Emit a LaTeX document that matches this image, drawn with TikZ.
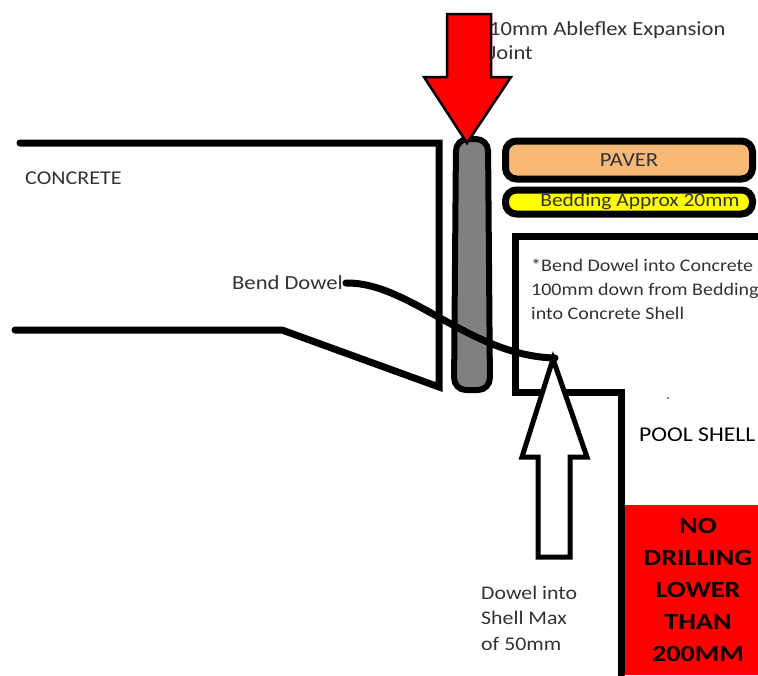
\documentclass[tikz,border=0pt]{standalone}
\usepackage{fontspec}
\setmainfont{Carlito}
\newfontfamily\wfont[FakeStretch=1.13]{Carlito}
\newfontfamily\bfont[FakeStretch=1.22]{Carlito}
\definecolor{paverc}{RGB}{249,185,118}
\definecolor{beddc}{RGB}{255,255,0}
\definecolor{jointc}{RGB}{128,128,128}
\definecolor{txtc}{RGB}{50,50,55}
\begin{document}
\begin{tikzpicture}[x=1pt,y=-1pt,
  thickline/.style={line width=7pt,line cap=round,line join=miter},
  lbl/.style={inner sep=0pt,anchor=west,text=txtc,align=left},
  layer/.style={draw=black,line width=7pt,rounded corners=11pt},
  redtxt/.style={inner sep=0pt,font=\fontsize{23}{32}\selectfont\bfont\bfseries,align=center}]
\useasboundingbox[fill=white] (0,0) rectangle (758,675);
% concrete slab
\draw[thickline] (20,143) -- (439,143) -- (439,387) -- (282,330) -- (15,330);
% pool shell
\draw[thickline,line cap=butt] (760,236) -- (515,236) -- (515,392) -- (621,392) -- (621,677);
% expansion joint
\draw[draw=black,line width=6pt,fill=jointc,rounded corners=12pt]
  (456,139) -- (488,139) -- (490,390) -- (454,390) -- cycle;
% paver and bedding
\node[layer,fill=paverc,minimum width=247pt,minimum height=38pt,inner sep=0pt,
  text=txtc,font=\fontsize{20}{22}\selectfont\wfont] (paver) at (629,160) {PAVER};
\node[layer,fill=beddc,minimum width=247pt,minimum height=24pt,inner sep=0pt,
  text=txtc,font=\fontsize{19}{20}\selectfont\wfont] (bedding) at (629,202) {\hspace{22pt}Bedding Approx 20mm};
% red box
\fill[red] (625,505) rectangle (758,675);
\node[redtxt] (nodrill) at (698,590) {NO\\DRILLING\\LOWER\\THAN\\200MM};
% red arrow
\draw[fill=red,line width=2.5pt,line join=miter] (447,14) -- (491,14) -- (491,77) -- (511,77) -- (467,143) -- (424,77) -- (447,77) -- cycle;
% white arrow
\draw[fill=white,line width=5pt,line join=miter] (553,359) -- (587,457) -- (570,457) -- (570,557) -- (538,557) -- (538,457) -- (522,457) -- cycle;
% labels
\node[lbl,font=\fontsize{20}{24}\selectfont\wfont] (joint) at (489,41) {10mm Ableflex Expansion\\Joint};
\node[lbl,font=\fontsize{19.5}{24}\selectfont\wfont] (conc) at (25,178) {CONCRETE};
\node[lbl,font=\fontsize{20}{24}\selectfont\wfont] (bend) at (232,283) {Bend Dowel};
\node[lbl,font=\fontsize{17.7}{24}\selectfont\wfont] (note) at (531,289) {*Bend Dowel into Concrete\\100mm down from Bedding\\into Concrete Shell};
\node[lbl,text=black,font=\fontsize{21}{24}\selectfont\wfont] (pool) at (639,435) {POOL SHELL};
\node[lbl,font=\fontsize{19.3}{25.5}\selectfont\wfont] (dowelmax) at (481,618) {Dowel into\\Shell Max\\of 50mm};
\fill[black] (668,398) circle (0.8);
% dowel
\coordinate (dowelend) at (555,358);
\draw[line width=7pt,line cap=round] (bend.east) ++(3,0) .. controls (410,282) and (470,356) .. (dowelend);
\end{tikzpicture}
\end{document}
